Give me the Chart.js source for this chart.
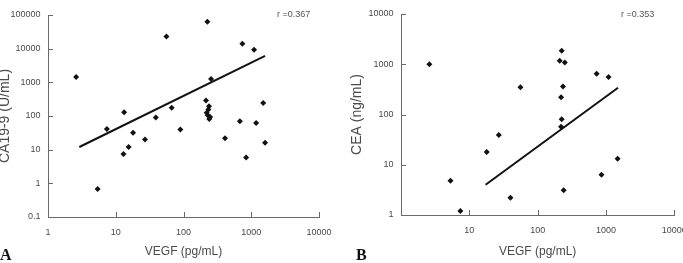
<!DOCTYPE html>
<html lang="en">
<head>
    <meta charset="UTF-8">
    <title>VEGF correlations</title>
    <script src="https://cdn.jsdelivr.net/npm/chart.js"></script>
    <style>
        body {
            margin: 0;
            background: #ffffff;
            font-family: 'Liberation Sans', Arial, sans-serif;
            width: 683px;
            height: 263px;
            overflow: hidden;
            position: relative;
        }
        .panel {
            position: absolute;
            top: 0;
            height: 263px;
        }
        #panelA { left: 0; width: 340px; }
        #panelB { left: 340px; width: 343px; }
        .rlabel {
            position: absolute;
            font-size: 9px;
            color: #555;
            line-height: 1;
            white-space: nowrap;
        }
        .letter {
            position: absolute;
            font-family: 'Liberation Serif', 'DejaVu Serif', serif;
            font-weight: bold;
            font-size: 16px;
            line-height: 1;
            color: #111;
        }
    </style>
</head>
<body>
    <div class="panel" id="panelA"><canvas id="chartA" width="340" height="263"></canvas></div>
    <div class="panel" id="panelB"><canvas id="chartB" width="343" height="263"></canvas></div>
    <div class="rlabel" style="left:277px; top:10px;">r =0.367</div>
    <div class="rlabel" style="left:621px; top:10px;">r =0.353</div>
    <div class="letter" style="left:0px; top:247px;">A</div>
    <div class="letter" style="left:356px; top:247px;">B</div>

    <script>
        // Panel A: VEGF vs CA19-9
        const vegfA = [2.6, 5.4, 7.4, 13.3, 13, 15.5, 18, 27, 39, 56, 67, 90, 225, 215, 238, 233, 220, 228, 247, 240, 255, 410, 680, 740, 840, 1100, 1180, 1500, 1600];
        const ca199 = [1450, 0.68, 41, 130, 7.4, 12, 32, 20, 90, 23000, 175, 40, 63000, 290, 196, 156, 124, 106, 94, 82, 1250, 22, 70, 14000, 5.9, 9300, 62, 245, 16];
        const fitAx = [2.9, 1600];
        const fitAy = [12, 6150];

        // Panel B: VEGF vs CEA
        const vegfB = [2.6, 5.3, 7.4, 18, 27, 40, 56, 225, 210, 250, 235, 220, 225, 220, 240, 730, 860, 1090, 1480];
        const cea = [1000, 4.8, 1.2, 18, 39, 2.2, 350, 1850, 1180, 1080, 360, 220, 80, 57, 3.1, 650, 6.3, 560, 13.2];
        const fitBx = [17.3, 1500];
        const fitBy = [4, 340];

        const xTicks = [1, 10, 100, 1000, 10000];
        const yTicksA = [0.1, 1, 10, 100, 1000, 10000, 100000];
        const yTicksB = [1, 10, 100, 1000, 10000];

        const axisColor = '#6a6a6a';
        const labelColor = '#4a4a4a';

        function pts(xs, ys) {
            return xs.map((x, i) => ({ x: x, y: ys[i] }));
        }

        // inward tick marks, like the original figure
        const innerTicks = {
            id: 'innerTicks',
            afterDraw(chart) {
                const ctx = chart.ctx;
                const area = chart.chartArea;
                ctx.save();
                ctx.strokeStyle = axisColor;
                ctx.lineWidth = 1;
                ctx.beginPath();
                chart.scales.x.ticks.forEach(t => {
                    const px = Math.round(chart.scales.x.getPixelForValue(t.value)) + 0.5;
                    ctx.moveTo(px, area.bottom);
                    ctx.lineTo(px, area.bottom - 5);
                });
                chart.scales.y.ticks.forEach(t => {
                    const py = Math.round(chart.scales.y.getPixelForValue(t.value)) + 0.5;
                    ctx.moveTo(area.left, py);
                    ctx.lineTo(area.left + 5, py);
                });
                ctx.stroke();
                ctx.restore();
            }
        };

        function makeChart(id, opts) {
            return new Chart(document.getElementById(id), {
                type: 'scatter',
                data: {
                    datasets: [
                        {
                            type: 'line',
                            data: pts(opts.fitX, opts.fitY),
                            borderColor: '#111',
                            borderWidth: 2,
                            pointRadius: 0,
                            fill: false
                        },
                        {
                            data: pts(opts.xs, opts.ys),
                            pointStyle: 'rectRot',
                            pointRadius: 3,
                            backgroundColor: '#111',
                            borderColor: '#111',
                            borderWidth: 0
                        }
                    ]
                },
                options: {
                    responsive: false,
                    animation: false,
                    devicePixelRatio: 1,
                    layout: { padding: { left: 0, right: opts.padRight, top: opts.padTop, bottom: 0 } },
                    plugins: { legend: { display: false }, tooltip: { enabled: false } },
                    scales: {
                        x: {
                            type: 'logarithmic',
                            min: 1,
                            max: 10000,
                            afterBuildTicks: s => { s.ticks = xTicks.map(v => ({ value: v })); },
                            afterFit: s => { s.height = opts.xHeight; s.paddingLeft = 0; s.paddingRight = 0; },
                            border: { display: true, color: axisColor, width: 1 },
                            grid: { display: false, drawTicks: false },
                            ticks: {
                                autoSkip: false,
                                maxRotation: 0,
                                padding: 10,
                                color: labelColor,
                                font: { family: "'Liberation Sans', Arial, sans-serif", size: 9 },
                                callback: v => (opts.hideX1 && v === 1) ? '' : String(v)
                            },
                            title: {
                                display: true,
                                text: 'VEGF (pg/mL)',
                                color: labelColor,
                                padding: { top: 0, bottom: 4 },
                                font: { family: "'Liberation Sans', Arial, sans-serif", size: 12 }
                            }
                        },
                        y: {
                            type: 'logarithmic',
                            min: opts.yMin,
                            max: opts.yMax,
                            afterBuildTicks: s => { s.ticks = opts.yTicks.map(v => ({ value: v })); },
                            afterFit: s => { s.width = opts.yWidth; s.paddingTop = 0; s.paddingBottom = 0; },
                            border: { display: true, color: axisColor, width: 1 },
                            grid: { display: false, drawTicks: false },
                            ticks: {
                                autoSkip: false,
                                padding: 7.5,
                                color: labelColor,
                                font: { family: "'Liberation Sans', Arial, sans-serif", size: 9 },
                                callback: v => String(v)
                            },
                            title: {
                                display: true,
                                text: opts.yTitle,
                                color: labelColor,
                                padding: { top: opts.yTitlePad, bottom: 0 },
                                font: { family: "'Liberation Sans', Arial, sans-serif", size: 14, lineHeight: opts.yTitleLH }
                            }
                        }
                    }
                },
                plugins: [innerTicks]
            });
        }

        makeChart('chartA', {
            xs: vegfA, ys: ca199, fitX: fitAx, fitY: fitAy,
            yMin: 0.1, yMax: 100000, yTicks: yTicksA,
            yTitle: 'CA19-9 (U/mL)', yTitlePad: 0, yTitleLH: 0.7,
            yWidth: 48, xHeight: 46, padRight: 21, padTop: 15, hideX1: false
        });

        makeChart('chartB', {
            xs: vegfB, ys: cea, fitX: fitBx, fitY: fitBy,
            yMin: 1, yMax: 10000, yTicks: yTicksB,
            yTitle: 'CEA (ng/mL)', yTitlePad: 8.6, yTitleLH: 1.2,
            yWidth: 61, xHeight: 48, padRight: 8.7, padTop: 14, hideX1: true
        });
    </script>
</body>
</html>
